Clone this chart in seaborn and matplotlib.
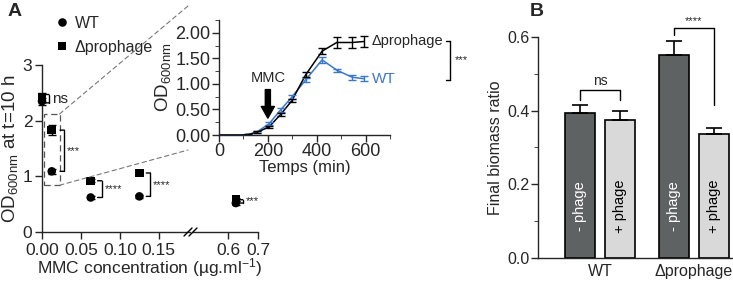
import numpy as np
import pandas as pd
import matplotlib
matplotlib.use("Agg")
import matplotlib.pyplot as plt
import matplotlib.transforms as mtransforms
from matplotlib.patches import Rectangle, ConnectionPatch
from matplotlib.ticker import MultipleLocator
import seaborn as sns

# ---- data: panel A, OD at t=10 h vs MMC ----
mmc_conc = [0.0, 0.0125, 0.0625, 0.125, 0.625]
wt_od = [2.35, 1.09, 0.62, 0.64, 0.52]
wt_err = [0.06, 0.05, 0.03, 0.03, 0.03]
prophage_od = [2.42, 1.83, 0.92, 1.06, 0.58]
prophage_err = [0.08, 0.09, 0.03, 0.03, 0.03]
sig_a = ["ns", "***", "****", "****", "***"]

# ---- data: inset growth curves ----
time_min = [0, 30, 60, 90, 120, 155, 205, 252, 298, 355, 422, 482, 545, 595]
wt_curve = [0, 0, 0, 0, 0.01, 0.06, 0.22, 0.49, 0.74, 1.08, 1.47, 1.27, 1.13, 1.10]
wt_curve_err = [0, 0, 0, 0, 0.01, 0.02, 0.03, 0.04, 0.04, 0.04, 0.06, 0.03, 0.05, 0.05]
pro_curve = [0, 0, 0, 0, 0.01, 0.05, 0.16, 0.40, 0.67, 1.18, 1.64, 1.81, 1.81, 1.83]
pro_curve_err = [0, 0, 0, 0, 0.01, 0.02, 0.02, 0.03, 0.03, 0.05, 0.06, 0.10, 0.10, 0.10]

# ---- data: panel B ----
strains = ["WT", "WT", "Δprophage", "Δprophage"]
treatment = ["- phage", "+ phage", "- phage", "+ phage"]
biomass = [0.393, 0.375, 0.550, 0.338]
biomass_err = [0.022, 0.023, 0.038, 0.016]

sns.set_style("ticks")
plt.rcParams["font.family"] = ["Liberation Sans", "DejaVu Sans"]
plt.rcParams["mathtext.fontset"] = "custom"
plt.rcParams["mathtext.rm"] = "Liberation Sans"
plt.rcParams["mathtext.it"] = "Liberation Sans"
plt.rcParams["axes.linewidth"] = 1.0
plt.rcParams["xtick.major.width"] = 1.0
plt.rcParams["ytick.major.width"] = 1.0

W, H = 733, 281
fig = plt.figure(figsize=(W / 100, H / 100), dpi=100)


def px(x0, y0, x1, y1):
    return [x0 / W, 1 - y1 / H, (x1 - x0) / W, (y1 - y0) / H]


blue = "#3b78c8"
dark = "#5e6264"
light = "#d9d9d9"

# ================= Panel A main (broken x axis) =================
axl = fig.add_axes(px(42, 65, 190, 232))
axr = fig.add_axes(px(193, 65, 258, 232), sharey=axl)

df_a = pd.DataFrame({
    "conc": mmc_conc * 2,
    "od": wt_od + prophage_od,
    "err": wt_err + prophage_err,
    "strain": ["WT"] * len(mmc_conc) + ["Δprophage"] * len(mmc_conc),
})
split = 0.3
for ax, d, show_legend in ((axl, df_a[df_a["conc"] < split], True),
                           (axr, df_a[df_a["conc"] >= split], False)):
    sns.scatterplot(data=d, x="conc", y="od", style="strain",
                    markers={"WT": "o", "Δprophage": "s"}, color="black",
                    s=38, edgecolor="black", linewidth=0, ax=ax,
                    legend=show_legend, clip_on=False, zorder=3)
    ax.errorbar(d["conc"], d["od"], yerr=d["err"], fmt="none",
                ecolor="black", elinewidth=1, capsize=3, clip_on=False, zorder=2)

axl.set_xlim(0, 0.19)
axr.set_xlim(0.48, 0.7)
axl.set_ylim(0, 3)
axl.set_yticks([0, 1, 2, 3])
axl.set_xticks([0.0, 0.05, 0.10, 0.15])
axl.set_xticklabels(["0.00", "0.05", "0.10", "0.15"])
axr.set_xticks([0.6, 0.7])
axr.set_xticklabels(["0.6", "0.7"])
axl.tick_params(labelsize=12.5, length=5)
axr.tick_params(labelsize=12.5, length=5)
axl.tick_params(axis="x", pad=3)
axr.tick_params(axis="x", pad=3)
axl.tick_params(axis="y", pad=2)
axr.tick_params(axis="y", left=False, labelleft=False)
sns.despine(ax=axl)
sns.despine(ax=axr, left=True)
axl.set_xlabel("")
axr.set_xlabel("")
axr.set_ylabel("")
axl.set_ylabel("OD$_{\\mathrm{600nm}}$ at t=10 h", fontsize=13.5, labelpad=2)
fig.text(150 / W, 1 - 268 / H, "MMC concentration (µg.ml$^{\\mathrm{-1}}$)",
         ha="center", va="center", fontsize=12.5)

sns.move_legend(axl, "upper left", bbox_to_anchor=(38 / W, 1 - 8 / H),
                bbox_transform=fig.transFigure, frameon=False, title=None,
                fontsize=11.5, handletextpad=-0.2, labelspacing=0.55,
                borderpad=0, markerscale=1.0)

# break marks
for dx in (-3, 2):
    xc = 191 + dx
    fig.add_artist(plt.Line2D([(xc - 4) / W, (xc + 4) / W],
                              [1 - 236 / H, 1 - 228 / H], color="black", lw=1))

# significance brackets, panel A
bracket_dx = [5, 9, 8, 8, 5]
for i, c in enumerate(mmc_conc):
    ax = axl if c < split else axr
    off = mtransforms.ScaledTranslation(bracket_dx[i] / 72, 0, fig.dpi_scale_trans)
    tr = ax.transData + off
    lo, hi = sorted([wt_od[i], prophage_od[i]])
    if i == 0:
        lo, hi = lo - 0.03, hi + 0.05
    ax.plot([c, c], [lo, hi], color="black", lw=1, transform=tr, clip_on=False)
    for yy in (lo, hi):
        ax.annotate("", xy=(c, yy), xycoords=tr, xytext=(-3, 0),
                    textcoords="offset points",
                    arrowprops=dict(arrowstyle="-", lw=1, color="black",
                                    shrinkA=0, shrinkB=0))
    ax.annotate(sig_a[i], xy=(c, (lo + hi) / 2), xycoords=tr, xytext=(2, 0),
                textcoords="offset points", ha="left", va="center",
                fontsize=11 if sig_a[i] == "ns" else 8)

# dashed zoom box
box = Rectangle((0.0028, 0.84), 0.0197, 1.28, fill=False, ls=(0, (5, 3)),
                lw=0.9, ec="#555555", zorder=1)
axl.add_patch(box)
for yb, yf in ((2.12, 6), (0.84, 150)):
    con = ConnectionPatch(xyA=(0.0225, yb), coordsA=axl.transData,
                          xyB=(188 / W, 1 - yf / H), coordsB=fig.transFigure,
                          ls=(0, (4, 3)), lw=0.8, color="#777777")
    fig.add_artist(con)

# ================= Inset growth curves =================
axi = fig.add_axes(px(219, 20, 390, 135))
df_c = pd.DataFrame({
    "time": time_min * 2,
    "od": wt_curve + pro_curve,
    "err": wt_curve_err + pro_curve_err,
    "strain": ["WT"] * len(time_min) + ["Δprophage"] * len(time_min),
})
sns.lineplot(data=df_c, x="time", y="od", hue="strain",
             palette={"WT": blue, "Δprophage": "black"}, lw=1.1,
             ax=axi, legend=False)
for strain, col in (("WT", blue), ("Δprophage", "black")):
    d = df_c[df_c["strain"] == strain]
    axi.errorbar(d["time"], d["od"], yerr=d["err"], fmt="none", ecolor=col,
                 elinewidth=1, capsize=3, capthick=1)
axi.set_xlim(0, 700)
axi.set_ylim(0, 2.25)
axi.set_xticks([0, 200, 400, 600])
axi.set_yticks([0, 0.5, 1.0, 1.5, 2.0])
axi.set_yticklabels(["0.00", "0.50", "1.00", "1.50", "2.00"])
axi.xaxis.set_minor_locator(MultipleLocator(100))
axi.yaxis.set_minor_locator(MultipleLocator(0.25))
axi.tick_params(labelsize=13, length=5, pad=1)
axi.tick_params(which="minor", length=3)
sns.despine(ax=axi)
axi.set_xlabel("Temps (min)", fontsize=12, labelpad=0)
axi.set_ylabel("OD$_{\\mathrm{600nm}}$", fontsize=13.5, labelpad=2)
axi.text(625, pro_curve[-1], "Δprophage", ha="left", va="center", fontsize=10.5)
axi.text(625, wt_curve[-1], "WT", ha="left", va="center", fontsize=11, color=blue)
# *** bracket at right
xb = 1.35
ytr = axi.get_yaxis_transform()
axi.plot([xb, xb], [pro_curve[-1], wt_curve[-1] - 0.02], color="black", lw=1,
         transform=ytr, clip_on=False)
for yy in (pro_curve[-1], wt_curve[-1] - 0.02):
    axi.plot([xb - 0.025, xb], [yy, yy], color="black", lw=1,
             transform=ytr, clip_on=False)
axi.text(xb + 0.03, (pro_curve[-1] + wt_curve[-1]) / 2, "***", fontsize=8,
         ha="left", va="center", transform=ytr)
# MMC arrow
axi.annotate("MMC", xy=(200, 0.33), xytext=(200, 0.98), ha="center", va="bottom",
             fontsize=10.5,
             arrowprops=dict(arrowstyle="simple,head_width=0.9,head_length=0.8,tail_width=0.35",
                             color="black", shrinkA=1, shrinkB=0))

# ================= Panel B =================
axb = fig.add_axes(px(538, 37, 733, 258))
df_b = pd.DataFrame({"strain": strains, "treatment": treatment, "ratio": biomass,
                     "err": biomass_err})
sns.barplot(data=df_b, x="strain", y="ratio", hue="treatment",
            palette={"- phage": dark, "+ phage": light}, width=0.85, gap=0.25,
            edgecolor="black", linewidth=1.2, errorbar=None, legend=False, ax=axb)
bars = sorted(axb.patches, key=lambda p: p.get_x())
bx = [p.get_x() + p.get_width() / 2 for p in bars]
axb.errorbar(bx, biomass, yerr=[np.zeros(4), biomass_err], fmt="none",
             ecolor="black", elinewidth=1.2, capsize=6, capthick=1.2, zorder=3)
for x, t in zip(bx, treatment):
    axb.text(x, 0.14, t, rotation=90, ha="center", va="center", fontsize=10.5,
             color="white" if t.startswith("-") else "black")
axb.set_xlim(-0.66, 1.415)
axb.set_ylim(0, 0.6)
axb.set_yticks([0, 0.2, 0.4, 0.6])
axb.set_yticklabels(["0.0", "0.2", "0.4", "0.6"])
axb.yaxis.set_minor_locator(MultipleLocator(0.1))
axb.tick_params(axis="y", labelsize=11.5, length=5, pad=1)
axb.tick_params(axis="y", which="minor", length=3)
axb.tick_params(axis="x", labelsize=11.5, length=0, pad=4)
sns.despine(ax=axb)
axb.set_xlabel("")
axb.set_ylabel("Final biomass ratio", fontsize=11.5, labelpad=3)
# brackets B
axb.plot([bx[0], bx[0], bx[1], bx[1]], [0.43, 0.457, 0.457, 0.43], color="black",
         lw=1, clip_on=False)
axb.text((bx[0] + bx[1]) / 2, 0.462, "ns", ha="center", va="bottom", fontsize=10)
axb.plot([bx[2], bx[2], bx[3], bx[3]], [0.605, 0.625, 0.625, 0.415], color="black",
         lw=1, clip_on=False)
axb.text((bx[2] + bx[3]) / 2, 0.63, "****", ha="center", va="bottom", fontsize=8)

# panel letters
fig.text(8 / W, 1 - 3 / H, "A", fontsize=14, fontweight="bold", va="top")
fig.text(530 / W, 1 - 3 / H, "B", fontsize=14, fontweight="bold", va="top")

fig.savefig("out.png", dpi=100)
